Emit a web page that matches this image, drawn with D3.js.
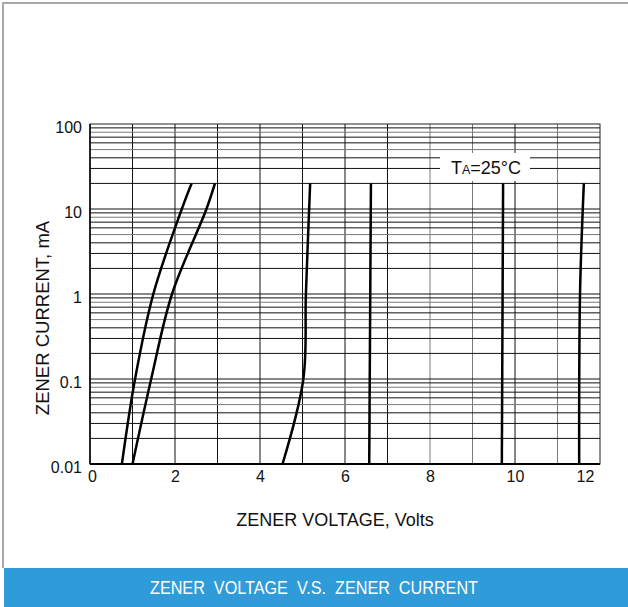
<!DOCTYPE html>
<html>
<head>
<meta charset="utf-8">
<title>Zener Voltage vs Zener Current</title>
<script src="https://d3js.org/d3.v7.min.js"></script>
<style>
  body { margin: 0; background: #fff; }
  svg { display: block; font-family: "Liberation Sans", Arial, sans-serif; }
</style>
</head>
<body>
<svg width="628" height="607"></svg>
<script>
  // axis ticks
  const xTicks = [0, 2, 4, 6, 8, 10, 12];
  const yTicks = [0.01, 0.1, 1, 10, 100];

  // characteristic curves, [volts, mA]
  const curveA   = [[0.75, 0.01], [1.06, 0.1], [1.49, 1], [2.16, 10], [2.39, 20]];
  const curveB   = [[1.0, 0.01], [1.44, 0.1], [1.93, 1], [2.74, 10], [2.94, 20]];
  const curve5v1 = [[4.53, 0.01], [5.02, 0.1], [5.08, 1], [5.18, 20]];
  const curve6v6 = [[6.57, 0.01], [6.61, 20]];
  const curve9v7 = [[9.69, 0.01], [9.72, 20]];
  const curve12  = [[11.51, 0.01], [11.53, 1], [11.62, 20]];
  const curves = [curveA, curveB, curve5v1, curve6v6, curve9v7, curve12];

  const W = 628, H = 607;
  const mLeft = 90, mTop = 124, width = 510, height = 340;

  const svg = d3.select('svg');

  // outer frame
  svg.append('path')
    .attr('d', `M3,568 V3 H${W}`)
    .attr('fill', 'none')
    .attr('stroke', '#a8a8a8')
    .attr('stroke-width', 2);

  const x = d3.scaleLinear().domain([0, 12]).range([mLeft, mLeft + width]);
  const y = d3.scaleLog().domain([0.01, 100]).range([mTop + height, mTop]);

  // grid - vertical, one per volt
  const grid = svg.append('g');
  grid.selectAll('line.v')
    .data(d3.range(1, 12))
    .enter().append('line')
    .attr('class', 'v')
    .attr('x1', d => x(d)).attr('x2', d => x(d))
    .attr('y1', mTop).attr('y2', mTop + height)
    .attr('stroke', d => [8, 9, 11].includes(d) ? '#7a7a7a' : '#111')
    .attr('stroke-width', 1);

  // grid - horizontal, log decades
  const minor = [];
  [0.01, 0.1, 1, 10].forEach(dec => {
    for (let m = 2; m <= 9; m++) minor.push({ v: dec * m, m: m });
  });
  grid.selectAll('line.h')
    .data(minor)
    .enter().append('line')
    .attr('class', 'h')
    .attr('x1', mLeft).attr('x2', mLeft + width)
    .attr('y1', d => y(d.v)).attr('y2', d => y(d.v))
    .attr('stroke', d => (d.m === 5 || d.m === 8) ? '#7a7a7a' : '#111')
    .attr('stroke-width', 1);
  grid.selectAll('line.d')
    .data([0.1, 1, 10])
    .enter().append('line')
    .attr('class', 'd')
    .attr('x1', mLeft).attr('x2', mLeft + width)
    .attr('y1', d => y(d)).attr('y2', d => y(d))
    .attr('stroke', '#111');

  // plot border
  svg.append('rect')
    .attr('x', mLeft).attr('y', mTop)
    .attr('width', width).attr('height', height)
    .attr('fill', 'none')
    .attr('stroke', '#222')
    .attr('stroke-width', 1);
  svg.append('line')
    .attr('x1', mLeft).attr('x2', mLeft + width)
    .attr('y1', mTop + height).attr('y2', mTop + height)
    .attr('stroke', '#000').attr('stroke-width', 2);
  svg.append('line')
    .attr('x1', mLeft).attr('x2', mLeft)
    .attr('y1', mTop).attr('y2', mTop + height)
    .attr('stroke', '#000').attr('stroke-width', 1.5);

  // annotation box
  svg.append('rect')
    .attr('x', 440).attr('y', 153)
    .attr('width', 90).attr('height', 28)
    .attr('fill', '#fff');
  const ta = svg.append('text')
    .attr('x', 486).attr('y', 174)
    .attr('text-anchor', 'middle')
    .attr('font-size', 18)
    .attr('fill', '#111');
  ta.append('tspan').text('T');
  ta.append('tspan').attr('font-size', 12.5).text('A');
  ta.append('tspan').text('=25°C');

  // curves
  const line = d3.line()
    .x(d => x(d[0]))
    .y(d => y(d[1]))
    .curve(d3.curveCatmullRom.alpha(0.5));
  svg.append('g')
    .selectAll('path')
    .data(curves)
    .enter().append('path')
    .attr('d', line)
    .attr('fill', 'none')
    .attr('stroke', '#000')
    .attr('stroke-width', 2.5);

  // axes labels
  const xAxis = svg.append('g')
    .attr('transform', `translate(0,${mTop + height})`)
    .call(d3.axisBottom(x).tickValues(xTicks).tickSize(0).tickPadding(7).tickFormat(d3.format('d')));
  xAxis.select('.domain').remove();
  xAxis.selectAll('text')
    .attr('font-size', 16)
    .attr('font-family', '"Liberation Sans", Arial, sans-serif')
    .attr('fill', '#111')
    .attr('dx', d => d === 12 ? -15 : (d === 0 ? 2 : 0));

  const yAxis = svg.append('g')
    .attr('transform', `translate(${mLeft},0)`)
    .call(d3.axisLeft(y).tickValues(yTicks).tickSize(0).tickPadding(8).tickFormat(d => String(d)));
  yAxis.select('.domain').remove();
  yAxis.selectAll('text')
    .attr('font-size', 16)
    .attr('font-family', '"Liberation Sans", Arial, sans-serif')
    .attr('fill', '#111')
    .attr('dy', '0.5em');

  svg.append('text')
    .attr('transform', `translate(49,318) rotate(-90)`)
    .attr('text-anchor', 'middle')
    .attr('font-size', 18.5)
    .attr('fill', '#111')
    .text('ZENER CURRENT, mA');

  svg.append('text')
    .attr('x', 335).attr('y', 526)
    .attr('text-anchor', 'middle')
    .attr('font-size', 18)
    .attr('fill', '#111')
    .text('ZENER VOLTAGE, Volts');

  // caption band
  svg.append('rect')
    .attr('x', 4).attr('y', 568)
    .attr('width', W - 4).attr('height', H - 568)
    .attr('fill', '#2f9bd8');
  svg.append('text')
    .attr('x', 314).attr('y', 594)
    .attr('text-anchor', 'middle')
    .attr('font-size', 19)
    .attr('textLength', 328)
    .attr('lengthAdjust', 'spacingAndGlyphs')
    .attr('fill', '#fff')
    .style('white-space', 'pre')
    .text('ZENER  VOLTAGE  V.S.  ZENER  CURRENT');
</script>
</body>
</html>
